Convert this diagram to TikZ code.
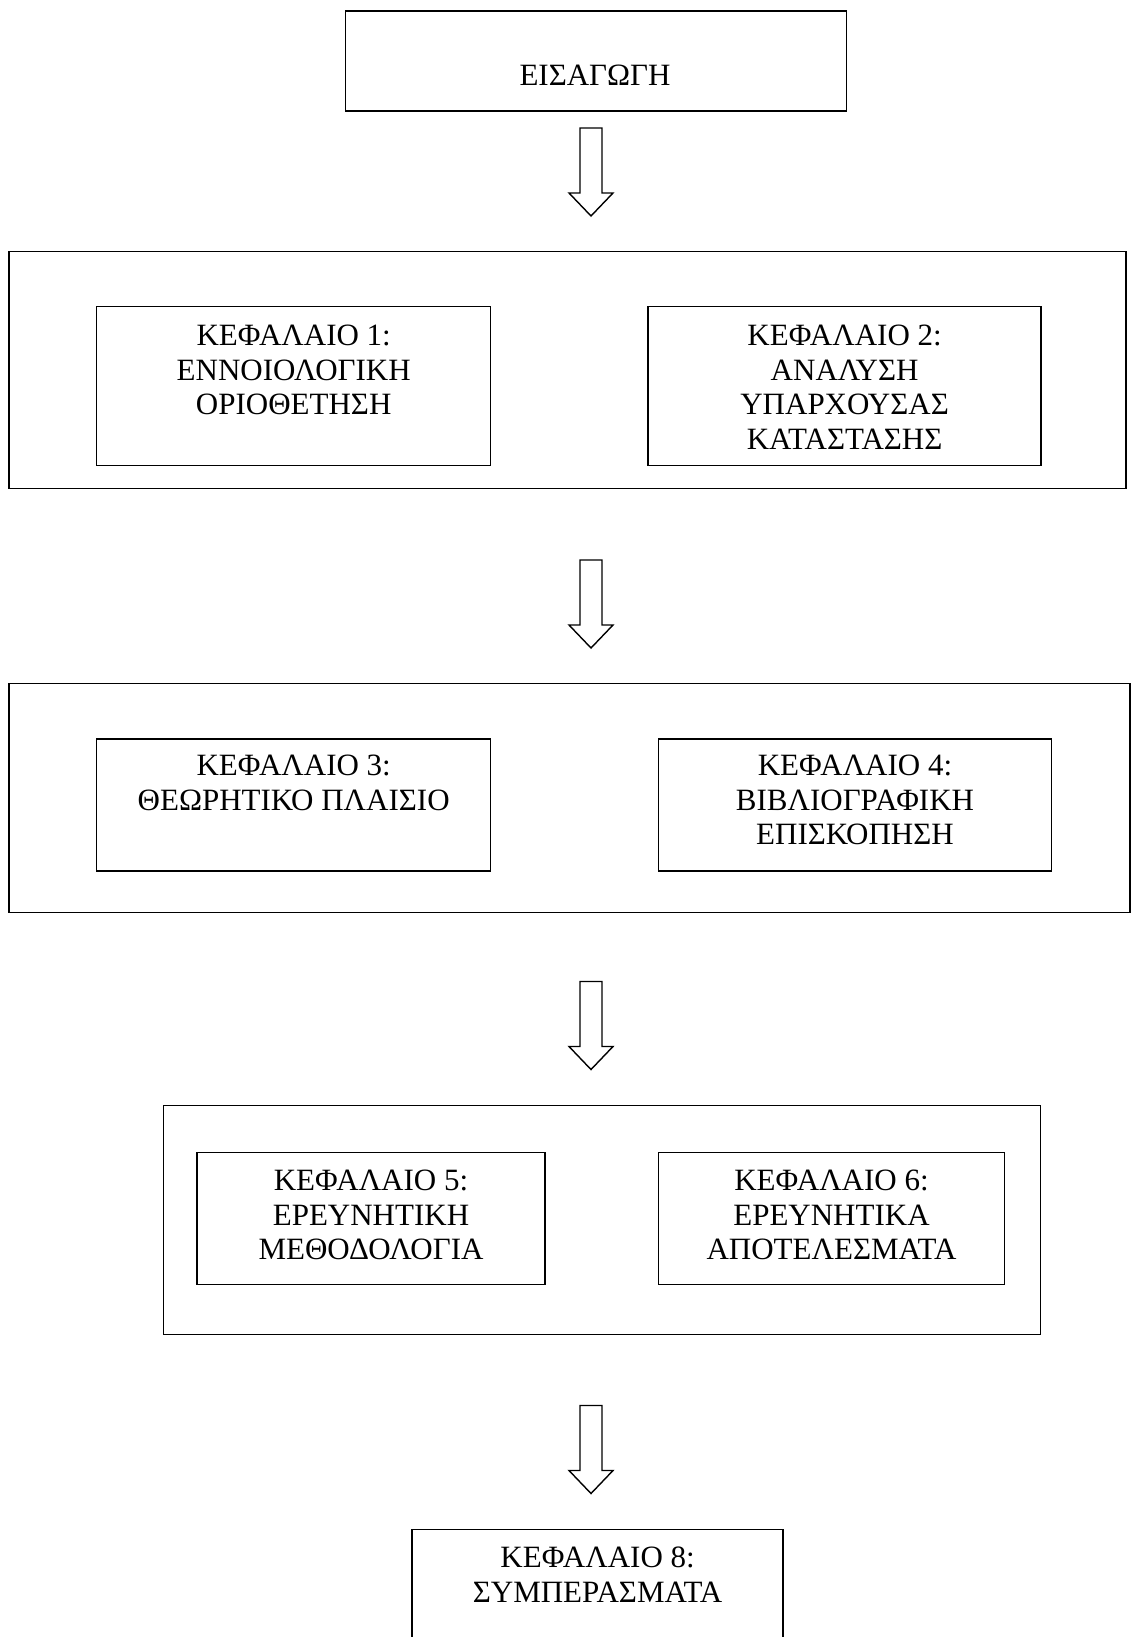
\documentclass[tikz,border=0pt]{standalone}
\usepackage{fontspec}
\setmainfont{Liberation Serif}
\begin{document}
\begin{tikzpicture}[x=1pt,y=-1pt,
  box/.style={draw,line width=1.4pt,inner sep=0pt,anchor=north west},
  lbl/.style={align=center,anchor=north,inner sep=0pt,font=\fontsize{31}{34.5}\selectfont},
  downarrow/.pic={\draw[line width=1.4pt,line join=miter] (-11,0) -- (-11,65) -- (-22,65) -- (0,88) -- (22,65) -- (11,65) -- (11,0) -- cycle;}]
\useasboundingbox (0,0) rectangle (1133,1637);
% top box
\node[box,minimum width=501pt,minimum height=100pt] (b0) at (344.6,10.4) {};
\node[lbl] (t0) at (595,65) {ΕΙΣΑΓΩΓΗ};
\pic (a1) at (591,128) {downarrow};
% group 1
\node[box,minimum width=1117pt,minimum height=237pt] (g1) at (8.4,250.6) {};
\node[box,minimum width=394pt,minimum height=159pt] (b1) at (96,306) {};
\node[box,minimum width=393pt,minimum height=159pt] (b2) at (647.4,306) {};
\node[lbl] (t1) at (b1.north |- 0,325) {ΚΕΦΑΛΑΙΟ 1:\\ΕΝΝΟΙΟΛΟΓΙΚΗ\\ΟΡΙΟΘΕΤΗΣΗ};
\node[lbl] (t2) at (b2.north |- 0,325) {ΚΕΦΑΛΑΙΟ 2:\\ΑΝΑΛΥΣΗ\\ΥΠΑΡΧΟΥΣΑΣ\\ΚΑΤΑΣΤΑΣΗΣ};
\pic (a2) at (591,560) {downarrow};
% group 2
\node[box,minimum width=1121pt,minimum height=229pt] (g2) at (8.4,682.9) {};
\node[box,minimum width=394pt,minimum height=132pt] (b3) at (96,738.2) {};
\node[box,minimum width=393pt,minimum height=132pt] (b4) at (657.8,738.2) {};
\node[lbl] (t3) at (b3.north |- 0,755) {ΚΕΦΑΛΑΙΟ 3:\\ΘΕΩΡΗΤΙΚΟ ΠΛΑΙΣΙΟ};
\node[lbl] (t4) at (b4.north |- 0,755) {ΚΕΦΑΛΑΙΟ 4:\\ΒΙΒΛΙΟΓΡΑΦΙΚΗ\\ΕΠΙΣΚΟΠΗΣΗ};
\pic (a3) at (591,981.5) {downarrow};
% group 3
\node[box,minimum width=877pt,minimum height=229pt] (g3) at (162.9,1104.8) {};
\node[box,minimum width=348pt,minimum height=132pt] (b5) at (196.3,1151.8) {};
\node[box,minimum width=346pt,minimum height=132pt] (b6) at (657.8,1151.8) {};
\node[lbl] (t5) at (b5.north |- 0,1170) {ΚΕΦΑΛΑΙΟ 5:\\ΕΡΕΥΝΗΤΙΚΗ\\ΜΕΘΟΔΟΛΟΓΙΑ};
\node[lbl] (t6) at (b6.north |- 0,1170) {ΚΕΦΑΛΑΙΟ 6:\\ΕΡΕΥΝΗΤΙΚΑ\\ΑΠΟΤΕΛΕΣΜΑΤΑ};
\pic (a4) at (591,1405.5) {downarrow};
% final box
\node[box,minimum width=371pt,minimum height=140pt] (b8) at (411.4,1528.7) {};
\node[lbl] (t8) at (b8.north |- 0,1547) {ΚΕΦΑΛΑΙΟ 8:\\ΣΥΜΠΕΡΑΣΜΑΤΑ};
\end{tikzpicture}
\end{document}
